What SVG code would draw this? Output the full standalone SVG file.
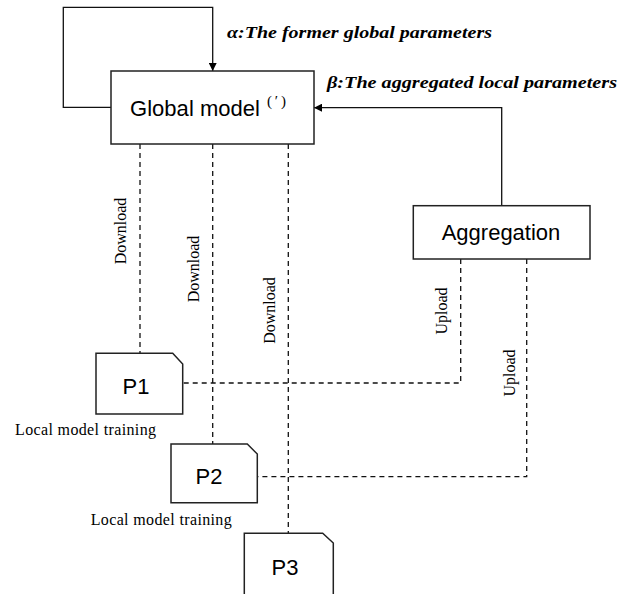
<svg xmlns="http://www.w3.org/2000/svg" width="632" height="594" viewBox="0 0 632 594">
<style>
.box{fill:#fff;stroke:#222;stroke-width:1.5}
.ln{fill:none;stroke:#111;stroke-width:1.3}
.dash{fill:none;stroke:#111;stroke-width:1.3;stroke-dasharray:5 4}
.sans{font-family:"Liberation Sans",Arial,sans-serif;font-size:22px;fill:#000}
.serif{font-family:"Liberation Serif","Times New Roman",serif;font-size:16px;fill:#000}
.math{font-family:"Liberation Serif","DejaVu Serif",serif;font-size:17px;font-weight:bold;font-style:italic;fill:#000}
</style>
<defs>
<marker id="arr" viewBox="0 0 10 10" refX="10" refY="5" markerWidth="8" markerHeight="8" markerUnits="userSpaceOnUse" orient="auto">
<path d="M0,0 L10,5 L0,10 z" fill="#000"/>
</marker>
</defs>
<g id="connectors">
<path class="ln" d="M111 107.3 H63.3 V7.3 H212.7 V71" marker-end="url(#arr)"/>
<path class="ln" d="M501.7 205.7 V107.7 H314" marker-end="url(#arr)"/>
<path class="dash" d="M140 144 V353.3"/>
<path class="dash" d="M212.7 144 V444"/>
<path class="dash" d="M288.3 144 V533.3"/>
<path class="dash" d="M460.7 259 V383 H183"/>
<path class="dash" d="M526.7 259 V476.7 H257.3"/>
<text class="math" x="227" y="38" textLength="265" lengthAdjust="spacingAndGlyphs">α:The former global parameters</text>
<text class="math" x="327" y="88" textLength="290" lengthAdjust="spacingAndGlyphs">β:The aggregated local parameters</text>
<text class="serif" transform="translate(125.5,231) rotate(-90)" text-anchor="middle">Download</text>
<text class="serif" transform="translate(199,269) rotate(-90)" text-anchor="middle">Download</text>
<text class="serif" transform="translate(275,310.5) rotate(-90)" text-anchor="middle">Download</text>
<text class="serif" transform="translate(447,311) rotate(-90)" text-anchor="middle">Upload</text>
<text class="serif" transform="translate(515,373) rotate(-90)" text-anchor="middle">Upload</text>
</g>
<g id="global-model">
<rect class="box" x="111" y="71" width="203" height="73"/>
<text class="sans" x="130" y="116" textLength="130">Global model</text>
<text x="267" y="106" font-family="'Liberation Serif',serif" font-size="15" textLength="19">(′)</text>
</g>
<g id="aggregation">
<rect class="box" x="413.3" y="205.7" width="176.7" height="53.3"/>
<text class="sans" x="501" y="240" text-anchor="middle">Aggregation</text>
</g>
<g id="p1">
<path class="box" d="M96 353.3 H172.7 L182.7 364 V414 H96 Z"/>
<text class="sans" x="136" y="394" text-anchor="middle">P1</text>
<text class="serif" x="15" y="435" textLength="141">Local model training</text>
</g>
<g id="p2">
<path class="box" d="M171 444 H247.3 L257.3 454 V502.7 H171 Z"/>
<text class="sans" x="209" y="484" text-anchor="middle">P2</text>
<text class="serif" x="90.7" y="525" textLength="141">Local model training</text>
</g>
<g id="p3">
<path class="box" d="M244.3 533.3 H322.7 L333.3 543 V600 H244.3 Z"/>
<text class="sans" x="285" y="575" text-anchor="middle">P3</text>
</g>
</svg>
